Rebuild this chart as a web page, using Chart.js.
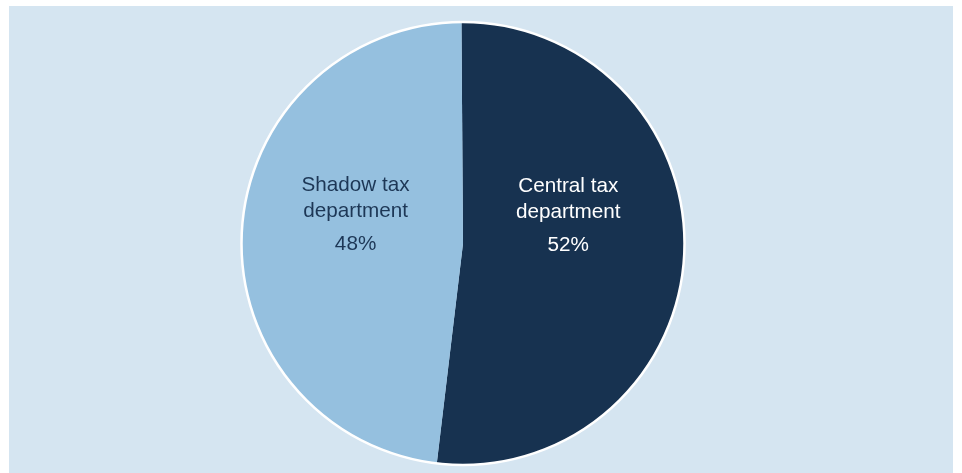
<!DOCTYPE html>
<html>
<head>
<meta charset="utf-8">
<script src="https://cdn.jsdelivr.net/npm/chart.js@4/dist/chart.umd.min.js"></script>
<style>
  html, body { margin: 0; padding: 0; background: #ffffff; }
  #wrap { position: relative; width: 962px; height: 473px; }
  #box { position: absolute; left: 9px; top: 6px; width: 944px; height: 467px; background: #d5e5f1; }
  #c { position: absolute; left: 0; top: 0; }
</style>
</head>
<body>
<div id="wrap">
  <div id="box"></div>
  <canvas id="c" width="962" height="473"></canvas>
</div>
<script>
const categories = ["Central tax department", "Shadow tax department"];
const labelLines = [["Central tax", "department"], ["Shadow tax", "department"]];
const shares = [52, 48];
const sliceColors = ["#173250", "#95c0df"];
const textColors = ["#ffffff", "#1d3756"];

const labelPlugin = {
  id: 'sliceLabels',
  afterDatasetsDraw(chart) {
    const ctx = chart.ctx;
    const meta = chart.getDatasetMeta(0);
    const arc0 = meta.data[0];
    const r = arc0.outerRadius;
    // white outer rim
    ctx.save();
    ctx.beginPath();
    ctx.arc(arc0.x, arc0.y, r, 0, Math.PI * 2);
    ctx.lineWidth = 2.5;
    ctx.strokeStyle = '#ffffff';
    ctx.stroke();
    ctx.restore();

    const offsets = [[0.475, -0.232], [-0.485, -0.237]];
    ctx.save();
    ctx.font = '20.7px "Liberation Sans", Arial, sans-serif';
    ctx.textAlign = 'center';
    ctx.textBaseline = 'alphabetic';
    meta.data.forEach((arc, i) => {
      const cx = arc.x + offsets[i][0] * r;
      const by = arc.y + offsets[i][1] * r;
      ctx.fillStyle = textColors[i];
      const lines = labelLines[i];
      lines.forEach((ln, k) => ctx.fillText(ln, cx, by + k * 26));
      ctx.fillText(shares[i] + '%', cx, by + 26 + 33);
    });
    ctx.restore();
  }
};

new Chart(document.getElementById('c'), {
  type: 'pie',
  data: {
    labels: categories,
    datasets: [{
      data: shares,
      backgroundColor: sliceColors,
      borderWidth: 0
    }]
  },
  options: {
    responsive: false,
    animation: false,
    rotation: -0.4,
    layout: { padding: { left: 0, right: 36, top: 22, bottom: 8 } },
    plugins: {
      legend: { display: false },
      tooltip: { enabled: false }
    }
  },
  plugins: [labelPlugin]
});
</script>
</body>
</html>
